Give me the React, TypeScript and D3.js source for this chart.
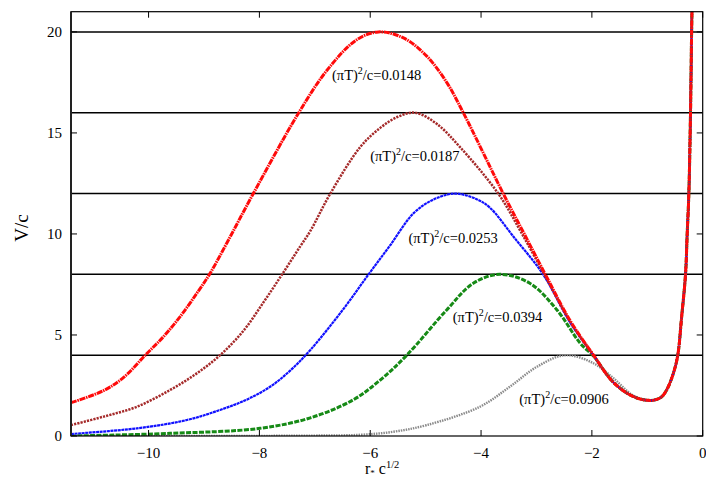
import React, { useEffect } from 'react';
import * as d3 from 'd3';

type Pt = [number, number];

// shared right-hand branch (all curves coincide here)
const tail: Pt[] = [
  [-1.61, 2.65], [-1.25, 1.95], [-0.93, 1.76], [-0.75, 1.92], [-0.65, 2.28],
  [-0.53, 3.1], [-0.45, 4.0], [-0.38, 5.9], [-0.31, 8.0], [-0.28, 10.0],
  [-0.25, 12.0], [-0.22, 16.0], [-0.2, 20.0], [-0.19, 21.5],
];

const red0148: Pt[] = [
  [-11.4, 1.65], [-10.81, 2.25], [-10.45, 2.9], [-10.06, 4.0], [-9.73, 4.92],
  [-9.43, 5.91], [-9.13, 7.06], [-8.89, 8.05], [-8.59, 9.54], [-8.11, 12.0],
  [-7.29, 16.0], [-6.78, 18.1], [-6.25, 19.6], [-5.85, 20.0], [-5.4, 19.7],
  [-4.98, 18.8], [-4.62, 17.5], [-4.32, 16.0], [-3.6, 12.0], [-3.22, 10.0],
  [-2.84, 8.0], [-2.39, 5.7], [-1.97, 4.0],
  ...tail,
];

const brown0187: Pt[] = [
  [-11.4, 0.54], [-10.81, 0.96], [-10.21, 1.45], [-9.61, 2.28], [-9.13, 3.1],
  [-8.71, 4.0], [-8.29, 5.2], [-7.93, 6.6], [-7.59, 8.0], [-7.26, 9.4],
  [-7.08, 10.15], [-6.72, 12.0], [-6.18, 14.3], [-5.82, 15.25], [-5.5, 15.8],
  [-5.19, 16.0], [-4.8, 15.45], [-4.38, 14.3], [-3.69, 12.0], [-3.28, 10.1],
  [-2.86, 8.0], [-2.39, 5.65], [-1.97, 4.0],
  ...tail,
];

const blue0253: Pt[] = [
  [-11.4, 0.1], [-10.21, 0.38], [-9.31, 0.79], [-8.71, 1.29], [-8.23, 1.8],
  [-7.8, 2.45], [-7.44, 3.25], [-7.08, 4.26], [-6.48, 6.3], [-6.03, 8.0],
  [-5.64, 9.44], [-5.22, 11.02], [-4.86, 11.7], [-4.47, 12.0], [-4.08, 11.72],
  [-3.84, 11.3], [-3.41, 9.85], [-2.88, 8.0], [-2.39, 5.6], [-1.97, 3.98],
  ...tail,
];

const green0394: Pt[] = [
  [-11.4, 0.0], [-9.61, 0.13], [-7.99, 0.38], [-7.08, 0.9], [-6.3, 1.8],
  [-5.82, 2.77], [-5.34, 4.0], [-4.62, 6.24], [-4.14, 7.56], [-3.66, 8.0],
  [-3.12, 7.56], [-2.63, 6.24], [-2.21, 4.59], [-1.97, 3.95],
  ...tail,
];

const gray0906: Pt[] = [
  [-11.4, 0.0], [-8.5, 0.005], [-7.0, 0.02], [-6.18, 0.06], [-5.58, 0.21],
  [-4.98, 0.54], [-4.02, 1.45], [-3.48, 2.44], [-2.99, 3.43], [-2.48, 4.0],
  [-1.97, 3.6], [-1.61, 2.86], [-1.25, 2.0],
  ...tail.slice(2),
];

const levels = [4, 8, 12, 16, 20];
const xTicks = [-10, -8, -6, -4, -2, 0];
const yTicks = [0, 5, 10, 15, 20];

const series = [
  { data: gray0906, color: '#8a8a8a', width: 2.4, dash: '1.5 1' },
  { data: green0394, color: '#168a16', width: 3, dash: '5 1.4' },
  { data: blue0253, color: '#1010ff', width: 2.2, dash: '3 0.6' },
  { data: brown0187, color: '#a52a2a', width: 2.5, dash: '2.2 1.1' },
  { data: red0148, color: '#ff0a0a', width: 3, dash: '6 0.8 1.5 0.8' },
];

const labels = [
  { value: '0.0148', x: -6.69, y: 17.62 },
  { value: '0.0187', x: -6.0, y: 13.6 },
  { value: '0.0253', x: -5.31, y: 9.55 },
  { value: '0.0394', x: -4.51, y: 5.64 },
  { value: '0.0906', x: -3.31, y: 1.58 },
];

const W = 706;
const H = 479;
const font = '"Times New Roman", "Liberation Serif", Tinos, "DejaVu Serif", serif';

export default function App() {
  useEffect(() => {
    document.body.style.margin = '0';
  }, []);

  const x = d3.scaleLinear().domain([-11.4, 0]).range([71, 702.7]);
  const y = d3.scaleLinear().domain([0, 21]).range([436, 11.7]);
  const [x0, x1] = x.range();
  const [y0, y1] = y.range();

  const line = d3
    .line<Pt>()
    .x((d) => x(d[0]))
    .y((d) => y(d[1]))
    .curve(d3.curveCatmullRom.alpha(0.5));

  const fmt = (v: number) => (v < 0 ? `\u2212${Math.abs(v)}` : `${v}`);

  return (
    <svg width={W} height={H} style={{ display: 'block', background: '#fff' }}>
      <defs>
        <clipPath id="plot-area">
          <rect x={x0} y={y1} width={x1 - x0} height={y0 - y1} />
        </clipPath>
      </defs>

      {levels.map((v) => (
        <line key={v} x1={x0} x2={x1} y1={y(v)} y2={y(v)} stroke="#000" strokeWidth={1.5} />
      ))}

      <g clipPath="url(#plot-area)" fill="none">
        {series.map((s, i) => (
          <path
            key={i}
            d={line(s.data) ?? ''}
            stroke={s.color}
            strokeWidth={s.width}
            strokeDasharray={s.dash}
          />
        ))}
      </g>

      {labels.map((l) => (
        <text key={l.value} x={x(l.x)} y={y(l.y)} fontFamily={font} fontSize={14.5} fill="#000">
          (πT)
          <tspan dy={-6} fontSize={10}>2</tspan>
          <tspan dy={6}>/c={l.value}</tspan>
        </text>
      ))}

      {/* frame */}
      <rect x={x0} y={y1} width={x1 - x0} height={y0 - y1} fill="none" stroke="#000" strokeWidth={1.2} />
      <line x1={x0} x2={x0} y1={y1} y2={y0} stroke="#222" strokeWidth={2} />

      {xTicks.map((t) => (
        <g key={t}>
          <line x1={x(t)} x2={x(t)} y1={y0} y2={y0 - 6} stroke="#000" />
          <line x1={x(t)} x2={x(t)} y1={y1} y2={y1 + 6} stroke="#000" />
          <text x={x(t)} y={458} textAnchor="middle" fontFamily={font} fontSize={15}>
            {fmt(t)}
          </text>
        </g>
      ))}

      {yTicks.map((t) => (
        <g key={t}>
          <line x1={x0} x2={x0 + 6} y1={y(t)} y2={y(t)} stroke="#000" />
          <line x1={x1} x2={x1 - 6} y1={y(t)} y2={y(t)} stroke="#000" />
          <text x={62} y={y(t) + 5} textAnchor="end" fontFamily={font} fontSize={15}>
            {t}
          </text>
        </g>
      ))}

      <text x={365} y={474} fontFamily={font} fontSize={16}>
        r<tspan dy={2} fontSize={9}>*</tspan>
        <tspan dy={-2}> c</tspan>
        <tspan dy={-6} fontSize={10.5}>1/2</tspan>
      </text>

      <text
        transform={`translate(28,228) rotate(-90)`}
        textAnchor="middle"
        fontFamily={font}
        fontSize={19}
      >
        V/c
      </text>
    </svg>
  );
}
